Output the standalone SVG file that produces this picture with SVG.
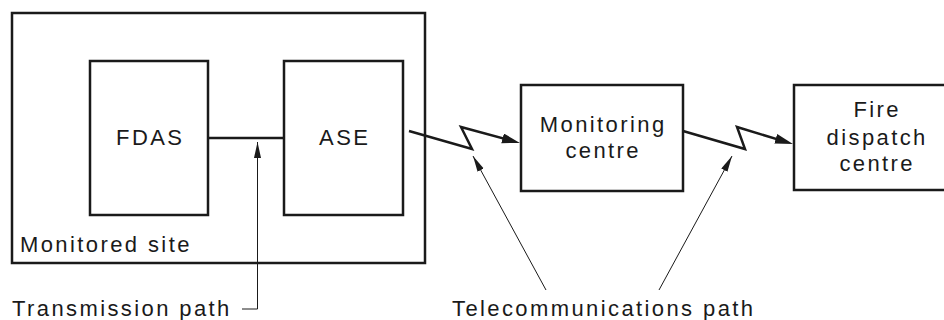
<svg xmlns="http://www.w3.org/2000/svg" width="944" height="320" viewBox="0 0 944 320">
<style>
.box{fill:#fff;stroke:#1a1a1a;stroke-width:2.5}
.thick{fill:none;stroke:#1a1a1a;stroke-width:2.5;stroke-linejoin:miter}
.thin{fill:none;stroke:#1a1a1a;stroke-width:1}
text{font-family:"Liberation Sans",Arial,sans-serif;font-size:22px;letter-spacing:2.4px;fill:#1a1a1a}
.c{text-anchor:middle}
</style>
<defs>
<marker id="bigArrow" markerUnits="userSpaceOnUse" markerWidth="20" markerHeight="12" refX="8" refY="5" orient="auto">
<path d="M0,0 L18,5 L0,10 z" fill="#1a1a1a"/>
</marker>
<marker id="smallArrow" markerUnits="userSpaceOnUse" markerWidth="18" markerHeight="8" refX="16" refY="3.5" orient="auto">
<path d="M0,0 L16,3.5 L0,7 z" fill="#1a1a1a"/>
</marker>
</defs>
<g id="monitored-site">
<rect class="box" x="12" y="13" width="413" height="250"/>
<text x="20" y="252">Monitored site</text>
</g>
<g id="fdas">
<rect class="box" x="90" y="61" width="118" height="154"/>
<text class="c" x="150.2" y="145">FDAS</text>
</g>
<g id="ase">
<rect class="box" x="284" y="61" width="119" height="154"/>
<text class="c" x="344.7" y="145">ASE</text>
</g>
<g id="monitoring-centre">
<rect class="box" x="521" y="85" width="162" height="106"/>
<text class="c" x="603.2" y="132">Monitoring</text>
<text class="c" x="603.2" y="158">centre</text>
</g>
<g id="fire-dispatch-centre">
<rect class="box" x="794" y="85" width="164" height="105"/>
<text class="c" x="877.2" y="117">Fire</text>
<text class="c" x="877.2" y="145">dispatch</text>
<text class="c" x="877.2" y="171">centre</text>
</g>
<g id="connectors">
<line class="thick" x1="208" y1="138" x2="284" y2="138"/>
<polyline class="thick" points="409,131 472,149 461,127 510.3,140.4" marker-end="url(#bigArrow)"/>
<polyline class="thick" points="683,131 745,149 737,127 783.4,141.1" marker-end="url(#bigArrow)"/>
<polyline class="thin" points="242,309 257.5,309 257.5,142" marker-end="url(#smallArrow)"/>
<line class="thin" x1="546" y1="290" x2="473" y2="156" marker-end="url(#smallArrow)"/>
<line class="thin" x1="659" y1="290" x2="732" y2="156" marker-end="url(#smallArrow)"/>
</g>
<g id="labels">
<text x="12" y="316">Transmission path</text>
<text x="452" y="316">Telecommunications path</text>
</g>
</svg>
